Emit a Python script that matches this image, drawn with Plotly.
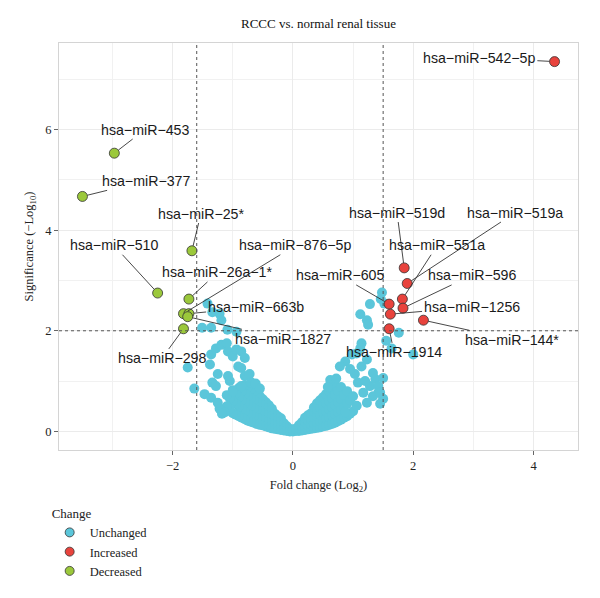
import plotly.graph_objects as go

# ---------------- data ----------------
# Unchanged miRNAs (Fold change Log2, Significance -Log10)
unch_x = [
    # left core
    -0.05, -0.05, -0.1, -0.1, -0.1, -0.15, -0.15, -0.15,
    -0.2, -0.2, -0.2, -0.2, -0.25, -0.25, -0.25, -0.25,
    -0.3, -0.3, -0.3, -0.3, -0.35, -0.35, -0.35, -0.35, -0.35,
    -0.4, -0.4, -0.4, -0.4, -0.4, -0.45, -0.45, -0.45, -0.45, -0.45,
    -0.5, -0.5, -0.5, -0.5, -0.5, -0.55, -0.55, -0.55, -0.55, -0.55,
    -0.6, -0.6, -0.6, -0.6, -0.6, -0.65, -0.65, -0.65, -0.65, -0.65,
    -0.7, -0.7, -0.7, -0.7, -0.7, -0.75, -0.75, -0.75, -0.75, -0.75,
    -0.8, -0.8, -0.8, -0.8, -0.8, -0.85, -0.85, -0.85, -0.85,
    -0.9, -0.9, -0.9, -0.9, -0.95, -0.95, -0.95, -1.0, -1.0, -1.0,
    -1.05, -1.05, -1.1, -1.1,
    # right core
    0.0, 0.0, 0.05, 0.05, 0.1, 0.1, 0.1, 0.15, 0.15, 0.15,
    0.2, 0.2, 0.2, 0.2, 0.25, 0.25, 0.25, 0.25,
    0.3, 0.3, 0.3, 0.3, 0.35, 0.35, 0.35, 0.35, 0.35,
    0.4, 0.4, 0.4, 0.4, 0.4, 0.45, 0.45, 0.45, 0.45, 0.45,
    0.5, 0.5, 0.5, 0.5, 0.5, 0.55, 0.55, 0.55, 0.55, 0.55,
    0.6, 0.6, 0.6, 0.6, 0.6, 0.65, 0.65, 0.65, 0.65, 0.65,
    0.7, 0.7, 0.7, 0.7, 0.7, 0.75, 0.75, 0.75, 0.75,
    0.8, 0.8, 0.8, 0.8, 0.85, 0.85, 0.85, 0.9, 0.9, 0.9,
    0.95, 0.95, 1.0, 1.0,
    # left scattered
    -1.42, -1.34, -1.22, -1.19, -1.51, -1.36, -1.09, -0.94, -1.75, -1.64,
    -1.38, -1.36, -1.28, -1.19, -1.10, -1.08, -1.00, -0.94, -0.86, -0.80,
    -0.91, -0.86, -1.25, -1.08, -1.05, -1.34, -1.28, -1.47, -1.36, -1.22,
    -1.13, -1.00, -0.80, -0.72, -0.69, -0.86, -1.25, -1.18, -0.62, -0.55,
    # right scattered
    1.48, 1.46, 1.52, 1.28, 1.12, 1.23, 1.25, 1.76, 1.55, 1.64,
    2.00, 1.14, 1.12, 1.06, 0.98, 1.23, 1.14, 0.87, 0.78, 0.62,
    1.33, 1.37, 1.50, 1.42, 1.50, 1.45, 1.28, 1.17, 1.08, 1.03,
    0.95, 1.33, 1.23, 1.06, 0.87, 1.42, 1.45, 0.72, 0.58, 1.2,
]
unch_y = [
    # left core
    0.0, 0.04, 0.01, 0.06, 0.1, 0.02, 0.08, 0.16,
    0.03, 0.1, 0.18, 0.26, 0.04, 0.12, 0.21, 0.3,
    0.05, 0.14, 0.24, 0.35, 0.06, 0.16, 0.27, 0.38, 0.45,
    0.08, 0.18, 0.3, 0.42, 0.52, 0.1, 0.2, 0.33, 0.46, 0.58,
    0.12, 0.22, 0.36, 0.5, 0.64, 0.13, 0.25, 0.4, 0.55, 0.7,
    0.15, 0.28, 0.43, 0.58, 0.74, 0.17, 0.3, 0.46, 0.62, 0.8,
    0.19, 0.33, 0.5, 0.66, 0.84, 0.21, 0.36, 0.53, 0.7, 0.88,
    0.24, 0.4, 0.57, 0.75, 0.92, 0.27, 0.45, 0.62, 0.8,
    0.3, 0.5, 0.68, 0.86, 0.33, 0.55, 0.76, 0.36, 0.6, 0.82,
    0.45, 0.66, 0.5, 0.72,
    # right core
    0.0, 0.04, 0.01, 0.05, 0.01, 0.06, 0.12, 0.02, 0.09, 0.18,
    0.03, 0.1, 0.19, 0.27, 0.04, 0.12, 0.22, 0.32,
    0.05, 0.14, 0.25, 0.36, 0.06, 0.16, 0.28, 0.4, 0.48,
    0.07, 0.18, 0.31, 0.44, 0.56, 0.08, 0.2, 0.34, 0.48, 0.62,
    0.1, 0.22, 0.37, 0.52, 0.68, 0.11, 0.25, 0.4, 0.56, 0.74,
    0.13, 0.28, 0.44, 0.6, 0.8, 0.15, 0.31, 0.48, 0.66, 0.86,
    0.17, 0.34, 0.52, 0.72, 0.92, 0.2, 0.38, 0.58, 0.8,
    0.23, 0.42, 0.64, 0.88, 0.27, 0.48, 0.72, 0.3, 0.55, 0.8,
    0.35, 0.62, 0.4, 0.7,
    # left scattered
    2.54, 2.37, 2.34, 2.21, 2.06, 2.06, 2.02, 1.98, 1.27, 0.85,
    1.33, 1.53, 1.65, 1.72, 1.75, 1.59, 1.49, 1.63, 1.59, 1.46,
    1.29, 1.26, 1.14, 1.10, 1.00, 0.97, 0.90, 0.74, 0.67, 0.45,
    0.38, 0.80, 1.10, 1.14, 0.97, 0.90, 0.57, 0.35, 0.95, 0.85,
    # right scattered
    2.76, 2.63, 2.54, 2.53, 2.33, 2.21, 2.12, 1.96, 1.80, 1.65,
    1.53, 1.75, 1.65, 1.55, 1.53, 1.43, 1.29, 1.39, 1.29, 1.02,
    1.16, 1.04, 1.06, 0.77, 0.65, 0.55, 0.90, 0.77, 0.97, 1.14,
    1.24, 0.70, 0.57, 0.51, 0.38, 0.90, 0.77, 1.05, 0.88, 1.0,
]

# Increased miRNAs
inc_names = ["hsa−miR−542−5p", "hsa−miR−519d", "hsa−miR−519a", "hsa−miR−551a",
             "hsa−miR−596", "hsa−miR−605", "hsa−miR−1256", "hsa−miR−144*",
             "hsa−miR−1914"]
inc_x = [4.35, 1.85, 1.90, 1.82, 1.83, 1.60, 1.62, 2.17, 1.60]
inc_y = [7.35, 3.25, 2.94, 2.63, 2.45, 2.53, 2.33, 2.21, 2.04]
inc_lab_x = [3.10, 1.73, 3.70, 2.40, 2.97, 0.78, 2.97, 3.65, 1.68]
inc_lab_y = [7.43, 4.35, 4.35, 3.70, 3.10, 3.10, 2.47, 1.82, 1.57]

# Decreased miRNAs
dec_names = ["hsa−miR−453", "hsa−miR−377", "hsa−miR−25*", "hsa−miR−510",
             "hsa−miR−26a−1*", "hsa−miR−876−5p", "hsa−miR−663b",
             "hsa−miR−1827", "hsa−miR−298"]
dec_x = [-2.97, -3.50, -1.68, -2.25, -1.73, -1.82, -1.73, -1.75, -1.82]
dec_y = [5.53, 4.67, 3.59, 2.75, 2.63, 2.34, 2.34, 2.28, 2.04]
dec_lab_x = [-2.46, -2.45, -1.53, -2.98, -1.25, 0.05, -0.62, -0.17, -2.18]
dec_lab_y = [6.00, 4.98, 4.33, 3.70, 3.16, 3.70, 2.47, 1.84, 1.45]

fc_low, fc_high, sig_cut = -1.6, 1.5, 2.0
x_range = [-3.89, 4.74]
y_range = [-0.37, 7.72]
x_ticks = [-2, 0, 2, 4]
y_ticks = [0, 2, 4, 6]

# ---------------- styles ----------------
C_UN = "#5bc6da"
C_IN = "#e8433d"
C_DE = "#9bc83b"
SERIF = "Liberation Serif, Times New Roman, serif"
SANS = "Liberation Sans, Arial, sans-serif"

fig = go.Figure()
fig.add_trace(go.Scatter(x=unch_x, y=unch_y, mode="markers", showlegend=False,
                         marker=dict(color=C_UN, size=10, line=dict(width=0)),
                         hoverinfo="skip"))
fig.add_trace(go.Scatter(x=inc_x, y=inc_y, mode="markers", showlegend=False,
                         marker=dict(color=C_IN, size=10, line=dict(color="#333333", width=0.8))))
fig.add_trace(go.Scatter(x=dec_x, y=dec_y, mode="markers", showlegend=False,
                         marker=dict(color=C_DE, size=10, line=dict(color="#333333", width=0.8))))

# legend entries
for name, col in [("Unchanged", C_UN), ("Increased", C_IN), ("Decreased", C_DE)]:
    fig.add_trace(go.Scatter(x=[None], y=[None], mode="markers", name=name,
                             marker=dict(color=col, size=9, line=dict(color="#333333", width=0.8))))

# threshold lines
for xv in (fc_low, fc_high):
    fig.add_shape(type="line", x0=xv, x1=xv, y0=0, y1=1, xref="x", yref="paper",
                  line=dict(color="#555555", width=1, dash="3px,3px"))
fig.add_shape(type="line", x0=0, x1=1, y0=sig_cut, y1=sig_cut, xref="paper", yref="y",
              line=dict(color="#555555", width=1, dash="3px,3px"))

# labels
def add_labels(names, px, py, lx, ly):
    for n, a, b, c, d in zip(names, px, py, lx, ly):
        fig.add_annotation(x=a, y=b, ax=c, ay=d, axref="x", ayref="y", xref="x", yref="y",
                           text=n, showarrow=True, arrowhead=0, arrowwidth=0.9,
                           arrowcolor="#333333", standoff=5,
                           font=dict(family=SANS, size=14.2, color="#1a1a1a"))

add_labels(inc_names, inc_x, inc_y, inc_lab_x, inc_lab_y)
add_labels(dec_names, dec_x, dec_y, dec_lab_x, dec_lab_y)

axis_common = dict(showgrid=True, gridcolor="#ebebeb", gridwidth=1,
                   zeroline=False, showline=True, mirror=True, linecolor="#d4d4d4",
                   linewidth=1, ticks="outside", ticklen=4, tickcolor="#666666",
                   tickfont=dict(family=SERIF, size=12.5, color="#222222"),
                   minor=dict(dtick=1, showgrid=True, gridcolor="#f1f1f1", gridwidth=0.7))

fig.update_xaxes(range=x_range, tickvals=x_ticks, **axis_common,
                 title=dict(text="Fold change (Log<sub>2</sub>)", standoff=8,
                            font=dict(family=SERIF, size=12.5, color="#222222")))
fig.update_yaxes(range=y_range, tickvals=y_ticks, **axis_common,
                 title=dict(text="Significance (−Log<sub>10</sub>)", standoff=8,
                            font=dict(family=SERIF, size=12.5, color="#222222")))

fig.update_layout(
    width=600, height=598,
    margin=dict(l=59, r=22, t=43, b=144),
    paper_bgcolor="white", plot_bgcolor="white",
    title=dict(text="RCCC vs. normal renal tissue", x=0.5, xref="paper", xanchor="center",
               y=1 - 23 / 598, yanchor="middle",
               font=dict(family=SERIF, size=13, color="#111111")),
    legend=dict(title=dict(text="Change", font=dict(family=SERIF, size=13, color="#222222")),
                font=dict(family=SERIF, size=12.5, color="#222222"),
                x=-0.018, xanchor="left", y=-0.125, yanchor="top",
                bgcolor="rgba(0,0,0,0)"),
    showlegend=True,
)

fig.write_html("out.html")
